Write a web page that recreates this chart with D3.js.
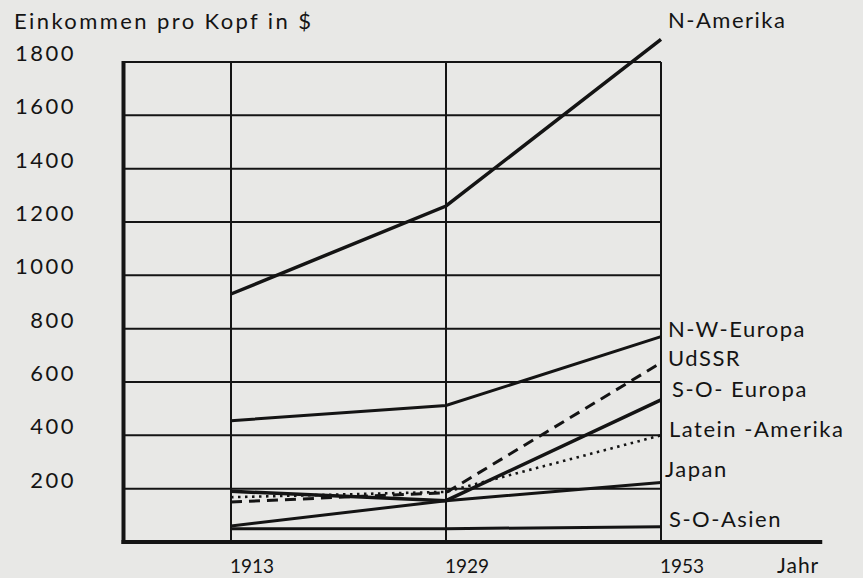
<!DOCTYPE html>
<html><head><meta charset="utf-8">
<script src="https://cdn.jsdelivr.net/npm/d3@7"></script>
<style>
body{margin:0;background:#e8e8e6;}
svg{display:block;}
text{font-family:"Lato","Noto Sans",sans-serif;fill:#141414;}
</style>
</head><body>
<svg id="chart" width="863" height="578"></svg>
<script>
// ---- data ----
const years = [1913, 1929, 1953];
const yTicks = [200, 400, 600, 800, 1000, 1200, 1400, 1600, 1800];
const seriesNames = ["N-Amerika", "N-W-Europa", "UdSSR", "S-O- Europa", "Latein -Amerika", "Japan", "S-O-Asien"];
const nAmerika      = [930, 1260, 1885];
const nwEuropa      = [455, 512, 770];
const udssr         = [150, 185, 672];
const soEuropa      = [190, 155, 533];
const lateinAmerika = [168, 188, 400];
const japan         = [60, 155, 223];
const soAsien       = [50, 50, 57];
const yTitle = "Einkommen pro Kopf in $";
const xTitle = "Jahr";

const seriesValues = [nAmerika, nwEuropa, udssr, soEuropa, lateinAmerika, japan, soAsien];

// ---- layout ----
const svg = d3.select("#chart");
const x = d3.scalePoint().domain(years).range([231, 661]);
const y = d3.scaleLinear().domain([0, 1800]).range([542, 62]);
const step = x.step();
const left = x(years[0]) - step / 2;
const right = x(years[years.length - 1]);
const ink = "#141414";

// horizontal grid lines
svg.append("g").selectAll("line").data(yTicks).join("line")
  .attr("x1", left).attr("x2", right)
  .attr("y1", d => y(d)).attr("y2", d => y(d))
  .attr("stroke", ink).attr("stroke-width", 2);

// vertical year lines
svg.append("g").selectAll("line").data(years).join("line")
  .attr("x1", d => x(d)).attr("x2", d => x(d))
  .attr("y1", y(1800)).attr("y2", y(0))
  .attr("stroke", ink).attr("stroke-width", 2);

// axes lines
svg.append("line").attr("x1", left).attr("x2", left)
  .attr("y1", y(1800) - 1).attr("y2", y(0) + 2)
  .attr("stroke", ink).attr("stroke-width", 4);
svg.append("line").attr("x1", left - 2).attr("x2", right + step * 0.75)
  .attr("y1", y(0)).attr("y2", y(0))
  .attr("stroke", ink).attr("stroke-width", 4);

// y tick labels
svg.append("g").selectAll("text").data(yTicks).join("text")
  .attr("x", 76).attr("y", d => y(d) - 1)
  .attr("text-anchor", "end")
  .attr("font-size", 22)
  .attr("letter-spacing", 2.5)
  .text(d => d);

// y title
svg.append("text").attr("x", 14).attr("y", 29)
  .attr("font-size", 22).attr("letter-spacing", 2.4)
  .text(yTitle);

// x labels
svg.append("g").selectAll("text").data(years).join("text")
  .attr("x", d => x(d) - 1).attr("y", 573)
  .attr("font-size", 19).attr("letter-spacing", 0)
  .text(d => d);
svg.append("text").attr("x", 777).attr("y", 573)
  .attr("font-size", 21).attr("letter-spacing", 1)
  .text(xTitle);

// series lines
const styles = [
  {w: 3.5, dash: null},
  {w: 3, dash: null},
  {w: 3, dash: "11,7"},
  {w: 3.5, dash: null},
  {w: 2.6, dash: "2.5,4.5"},
  {w: 3, dash: null},
  {w: 3, dash: null}
];
const line = d3.line().x((d, i) => x(years[i])).y(d => y(d));
svg.append("g").selectAll("path").data(seriesValues).join("path")
  .attr("d", line)
  .attr("fill", "none")
  .attr("stroke", ink)
  .attr("stroke-width", (d, i) => styles[i].w)
  .attr("stroke-dasharray", (d, i) => styles[i].dash);

// series labels
const labelDy = [-11, 0, 3, -3, 2, -6, 0];
const labelDx = [7, 7, 7, 11, 8, 4, 8];
svg.append("g").selectAll("text").data(seriesNames).join("text")
  .attr("x", (d, i) => right + labelDx[i])
  .attr("y", (d, i) => y(seriesValues[i][2]) + labelDy[i])
  .attr("font-size", 22)
  .attr("letter-spacing", 1.5)
  .text(d => d);
</script>
</body></html>
